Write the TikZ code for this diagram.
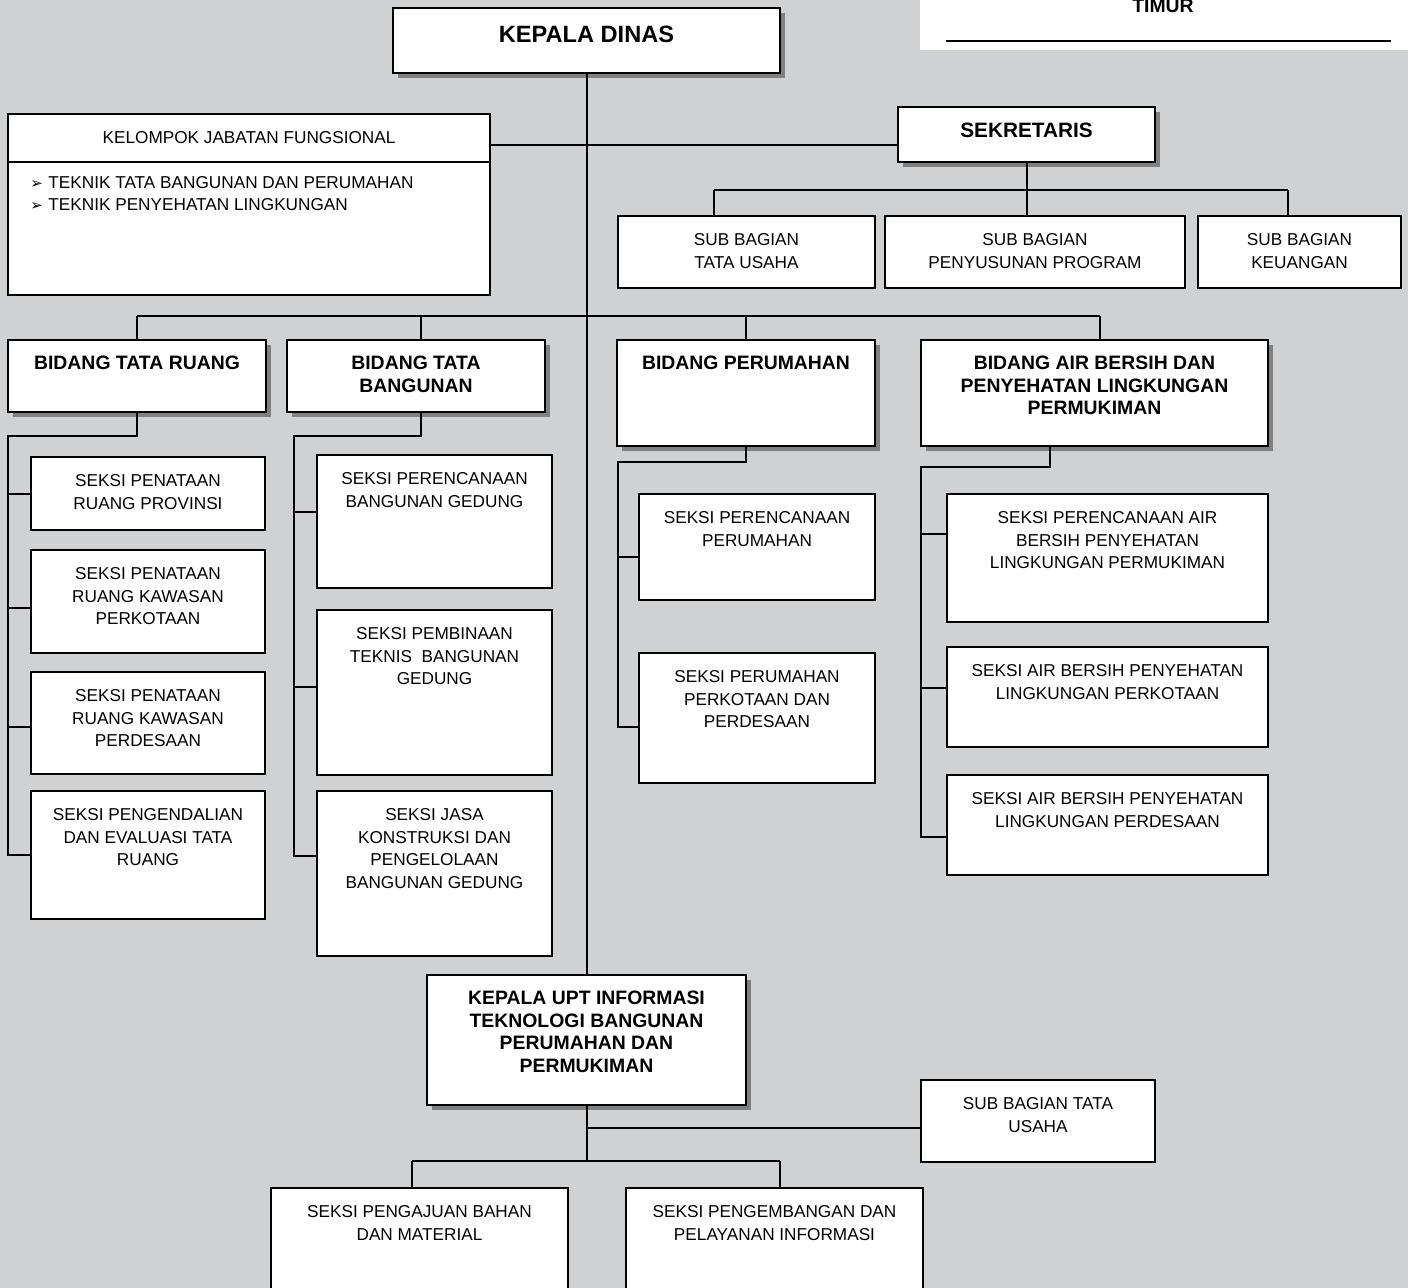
\documentclass[tikz,border=0pt]{standalone}
\usepackage{fontspec}
\setmainfont{Liberation Sans}
\newfontfamily\dvs{DejaVu Sans}
\usetikzlibrary{shadows}
\definecolor{bggray}{RGB}{208,209,210}
\definecolor{shgray}{RGB}{128,128,128}
\tikzset{
  box/.style={draw=black, fill=white, line width=1pt, inner sep=0pt, rectangle},
  sbox/.style={box, general shadow={fill=shgray, shadow xshift=2.5pt, shadow yshift=-2.5pt}},
  txt/.style={inner sep=0pt, align=center, anchor=north, yshift=-9.2pt,
    font=\fontsize{8.6}{11.25}\selectfont},
  btxt/.style={inner sep=0pt, align=center, anchor=north, yshift=-8.5pt,
    font=\fontsize{9.7}{11.25}\selectfont\bfseries},
  bultxt/.style={inner sep=0pt, align=left, anchor=north west,
    font=\fontsize{8.6}{11.25}\selectfont},
  conn/.style={line width=1pt, draw=black},
}
% style, name, x1, y1, x2, y2, text style, text
\newcommand\orgbox[8]{%
  \node[#1, minimum width={(#5-#3)*0.5pt}, minimum height={(#6-#4)*0.5pt}] (#2) at ({(#3+#5)/2},{(#4+#6)/2}) {};
  \node[#7] (#2-t) at (#2.north) {#8};
}
\newcommand\bul{\makebox[9pt][l]{\dvs\fontsize{7.5}{7.5}\selectfont ➢}}
\begin{document}
\begin{tikzpicture}[x=0.5pt, y=-0.5pt]
\useasboundingbox (0,0) rectangle (1408,1288);
\clip (0,0) rectangle (1408,1288);
\fill[bggray] (0,0) rectangle (1408,1288);

% top-right header remnant
\node[fill=white, inner sep=0pt, minimum width={(1420-920)*0.5pt}, minimum height={(60)*0.5pt}] (hdr) at (1170,20) {};
\node[font=\fontsize{9.7}{11.25}\selectfont\bfseries, anchor=base, inner sep=0pt] (timur) at (1163,12.7) {TIMUR};
\coordinate (hl) at (946,41);
\coordinate (hr) at (1391,41);
\draw[conn] (hl) -- (hr);

% top level
\orgbox{sbox}{kd}{393}{8}{780}{73}{btxt, yshift=-0.8pt, font=\fontsize{11.8}{14}\selectfont\bfseries}{KEPALA DINAS}
\orgbox{box}{kjf}{8}{114}{490}{295}{txt}{KELOMPOK JABATAN FUNGSIONAL}
\coordinate (kdl) at (8,162);
\draw[conn] (kjf.west |- kdl) -- (kjf.east |- kdl);
\node[bultxt] (kjf-b) at (30,176)
  {\bul TEKNIK TATA BANGUNAN DAN PERUMAHAN\\
   \bul TEKNIK PENYEHATAN LINGKUNGAN};
\orgbox{sbox}{sek}{898}{107}{1155}{162}{btxt, yshift=0.2pt, font=\fontsize{10.4}{12}\selectfont\bfseries}{SEKRETARIS}

\orgbox{box}{sbtu}{618}{216}{875}{288}{txt}{SUB BAGIAN\\TATA USAHA}
\orgbox{box}{sbpp}{885}{216}{1185}{288}{txt}{SUB BAGIAN\\PENYUSUNAN PROGRAM}
\orgbox{box}{sbk}{1198}{216}{1401}{288}{txt}{SUB BAGIAN\\KEUANGAN}

% bidang
\orgbox{sbox}{btr}{8}{340}{266}{412}{btxt}{BIDANG TATA RUANG}
\orgbox{sbox}{btb}{287}{340}{545}{412}{btxt}{BIDANG TATA\\BANGUNAN}
\orgbox{sbox}{bpr}{617}{340}{875}{446}{btxt}{BIDANG PERUMAHAN}
\orgbox{sbox}{bab}{921}{340}{1268}{446}{btxt}{BIDANG AIR BERSIH DAN\\PENYEHATAN LINGKUNGAN\\PERMUKIMAN}

% seksi tata ruang
\orgbox{box}{s11}{31}{457}{265}{530}{txt}{SEKSI PENATAAN\\RUANG PROVINSI}
\orgbox{box}{s12}{31}{550}{265}{653}{txt}{SEKSI PENATAAN\\RUANG KAWASAN\\PERKOTAAN}
\orgbox{box}{s13}{31}{672}{265}{774}{txt}{SEKSI PENATAAN\\RUANG KAWASAN\\PERDESAAN}
\orgbox{box}{s14}{31}{791}{265}{919}{txt}{SEKSI PENGENDALIAN\\DAN EVALUASI TATA\\RUANG}

% seksi tata bangunan
\orgbox{box}{s21}{317}{455}{552}{588}{txt}{SEKSI PERENCANAAN\\BANGUNAN GEDUNG}
\orgbox{box}{s22}{317}{610}{552}{775}{txt}{SEKSI PEMBINAAN\\TEKNIS\ \ BANGUNAN\\GEDUNG}
\orgbox{box}{s23}{317}{791}{552}{956}{txt}{SEKSI JASA\\KONSTRUKSI DAN\\PENGELOLAAN\\BANGUNAN GEDUNG}

% seksi perumahan
\orgbox{box}{s31}{639}{494}{875}{600}{txt}{SEKSI PERENCANAAN\\PERUMAHAN}
\orgbox{box}{s32}{639}{653}{875}{783}{txt}{SEKSI PERUMAHAN\\PERKOTAAN DAN\\PERDESAAN}

% seksi air bersih
\orgbox{box}{s41}{947}{494}{1268}{622}{txt}{SEKSI PERENCANAAN AIR\\BERSIH PENYEHATAN\\LINGKUNGAN PERMUKIMAN}
\orgbox{box}{s42}{947}{647}{1268}{747}{txt}{SEKSI AIR BERSIH PENYEHATAN\\LINGKUNGAN PERKOTAAN}
\orgbox{box}{s43}{947}{775}{1268}{875}{txt}{SEKSI AIR BERSIH PENYEHATAN\\LINGKUNGAN PERDESAAN}

% UPT
\orgbox{sbox}{upt}{427}{975}{746}{1105}{btxt}{KEPALA UPT INFORMASI\\TEKNOLOGI BANGUNAN\\PERUMAHAN DAN\\PERMUKIMAN}
\orgbox{box}{usb}{921}{1080}{1155}{1162}{txt}{SUB BAGIAN TATA\\USAHA}
\orgbox{box}{u1}{271}{1188}{568}{1300}{txt}{SEKSI PENGAJUAN BAHAN\\DAN MATERIAL}
\orgbox{box}{u2}{626}{1188}{923}{1300}{txt}{SEKSI PENGEMBANGAN DAN\\PELAYANAN INFORMASI}

% ---------- connectors ----------
\draw[conn] (kd.south) -- (upt.north);
\coordinate (kj) at (490,145);
\draw[conn] (kjf.east |- kj) -- (sek.west |- kj);

% sekretariat
\coordinate (sa) at (714,190);
\coordinate (sb) at (1288,190);
\draw[conn] (sek.south) -- (sek.south |- sbpp.north);
\draw[conn] (sa) -- (sb);
\draw[conn] (sa) -- (sa |- sbtu.north);
\draw[conn] (sb) -- (sb |- sbk.north);

% bidang bus
\coordinate (ba) at (137,316);
\coordinate (bb) at (421,316);
\coordinate (bc) at (746,316);
\coordinate (bd) at (1100,316);
\draw[conn] (ba) -- (bd);
\draw[conn] (ba) -- (ba |- btr.north);
\draw[conn] (bb) -- (bb |- btb.north);
\draw[conn] (bc) -- (bc |- bpr.north);
\draw[conn] (bd) -- (bd |- bab.north);

% tata ruang children
\coordinate (tr0) at (8,436);
\draw[conn] (btr.south) -- (btr.south |- tr0) -- (tr0) -- (8,855) -- (s14.west |- 0,855);
\draw[conn] (8,494) -- (s11.west |- 0,494);
\draw[conn] (8,608) -- (s12.west |- 0,608);
\draw[conn] (8,727) -- (s13.west |- 0,727);

% tata bangunan children
\coordinate (tb0) at (294,436);
\coordinate (tbt) at (421,412);
\draw[conn] (tbt) -- (tbt |- tb0) -- (tb0) -- (294,856) -- (s23.west |- 0,856);
\draw[conn] (294,512) -- (s21.west |- 0,512);
\draw[conn] (294,687) -- (s22.west |- 0,687);

% perumahan children
\coordinate (pr0) at (618,462);
\draw[conn] (bpr.south) -- (bpr.south |- pr0) -- (pr0) -- (618,727) -- (s32.west |- 0,727);
\draw[conn] (618,557) -- (s31.west |- 0,557);

% air bersih children
\coordinate (ab0) at (921,467);
\coordinate (abt) at (1050,446);
\draw[conn] (abt) -- (abt |- ab0) -- (ab0) -- (921,837) -- (s43.west |- 0,837);
\draw[conn] (921,534) -- (s41.west |- 0,534);
\draw[conn] (921,688) -- (s42.west |- 0,688);

% UPT children
\coordinate (ua) at (586.5,1128);
\coordinate (ub) at (586.5,1161);
\coordinate (ul) at (412,1161);
\coordinate (ur) at (780,1161);
\draw[conn] (upt.south) -- (ub);
\draw[conn] (ua) -- (usb.west |- ua);
\draw[conn] (ul) -- (ur);
\draw[conn] (ul) -- (ul |- u1.north);
\draw[conn] (ur) -- (ur |- u2.north);
\end{tikzpicture}
\end{document}
